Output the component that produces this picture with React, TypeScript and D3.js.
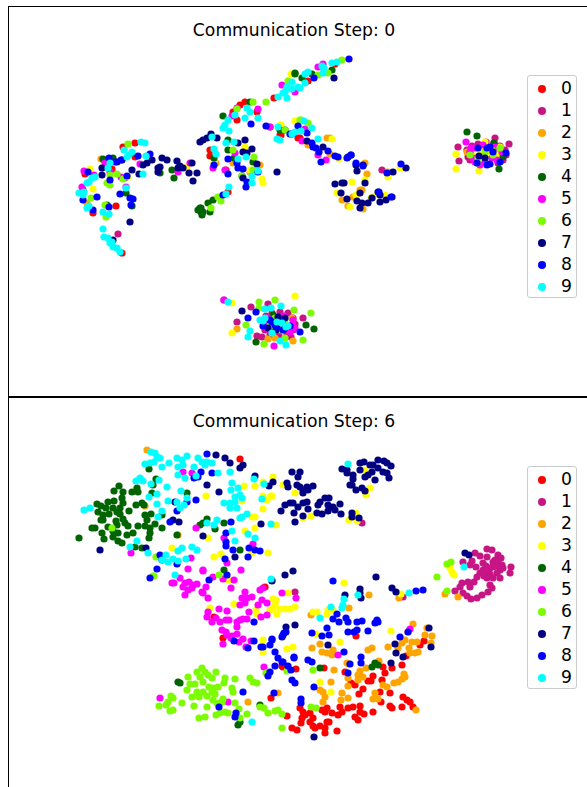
import React, { useEffect, useRef } from 'react'
import * as d3 from 'd3'

type Pt = [number, number]

const CLASSES = ['0', '1', '2', '3', '4', '5', '6', '7', '8', '9']
const COLORS = ['#ff0000', '#c71585', '#ffa500', '#ffff00', '#006400', '#ff00ff', '#7cfc00', '#000080', '#0000ff', '#00ffff']
const STEPS = [0, 6]

// t-SNE positions, one list per class
const top0: Pt[] = [[135,143],[123,147],[85,174],[83,190],[116,206],[93,213],[135,157],[112,169],[245,102],[240,105],[233,112],[274,98],[210,150],[210,156],[226,170],[228,192],[281,135],[270,127],[300,138],[237,120],[257,112],[122,253],[308,81],[280,135],[298,138],[335,64]]
const top1: Pt[] = [[118,234],[125,178],[382,170],[495,138],[509,144],[458,147],[459,161],[467,150],[468,157],[472,146],[478,144],[486,142],[494,143],[500,146],[505,150],[506,155],[503,160],[498,163],[470,160],[251,307],[268,304],[237,322],[303,318],[257,336],[262,337],[291,337],[224,300],[264,322],[266,316],[272,313],[280,312],[288,313],[293,318],[295,324],[293,330],[287,334],[279,336],[270,335],[265,330]]
const top2: Pt[] = [[101,159],[87,203],[216,163],[233,163],[260,165],[255,172],[250,172],[308,145],[327,138],[330,138],[367,174],[362,190],[353,197],[342,200],[348,206],[363,209],[365,163],[388,172],[330,154],[467,152],[360,190],[498,150],[237,329],[268,339],[275,338],[293,341],[292,318]]
const top3: Pt[] = [[90,169],[128,177],[93,189],[187,167],[245,147],[262,179],[263,183],[250,170],[280,125],[295,121],[292,74],[214,162],[291,74],[332,139],[365,180],[352,182],[337,193],[356,195],[350,207],[371,198],[385,195],[388,177],[400,168],[479,171],[456,169],[456,154],[500,147],[485,142],[498,155],[281,125],[373,197],[339,159],[295,296],[232,333],[232,303],[480,150],[490,155],[500,155],[472,155]]
const top4: Pt[] = [[103,159],[113,158],[172,170],[174,178],[126,193],[107,205],[132,206],[223,116],[228,140],[228,150],[214,158],[234,158],[253,162],[242,176],[208,203],[213,200],[200,208],[198,210],[201,212],[203,212],[202,215],[210,212],[201,208],[250,102],[280,130],[295,73],[160,173],[295,74],[302,78],[312,74],[332,70],[467,132],[477,136],[499,169],[494,143],[503,157],[285,130],[256,342],[306,325],[314,329],[273,315]]
const top5: Pt[] = [[84,171],[94,175],[82,187],[121,177],[126,187],[140,164],[178,172],[190,163],[110,172],[105,163],[237,108],[258,109],[232,116],[213,168],[225,170],[270,127],[295,92],[282,85],[235,153],[318,67],[323,64],[305,129],[318,155],[302,141],[326,160],[466,142],[471,148],[473,158],[492,158],[480,165],[274,346],[292,325],[293,320],[224,300],[265,325],[295,328],[268,318],[470,152],[475,148],[483,145],[495,147],[502,152],[497,160],[485,162],[475,162],[267,328],[290,332],[284,316],[272,332]]
const top6: Pt[] = [[128,144],[110,175],[117,174],[123,179],[107,183],[110,185],[91,198],[106,217],[105,205],[233,150],[254,157],[237,109],[253,102],[266,102],[218,197],[221,201],[211,208],[242,176],[253,170],[285,130],[288,81],[300,120],[342,60],[328,73],[318,75],[308,123],[301,120],[470,155],[477,163],[493,155],[500,148],[259,302],[275,300],[294,310],[311,313],[246,325],[264,344],[303,340],[259,308],[285,338],[478,158],[485,152],[492,150],[275,318],[285,320],[280,330],[270,326]]
const top7: Pt[] = [[203,140],[200,142],[207,138],[211,134],[217,138],[102,168],[102,175],[122,160],[117,162],[132,170],[143,165],[147,163],[152,160],[158,168],[160,167],[158,172],[162,158],[167,160],[177,161],[180,166],[178,168],[183,168],[192,163],[189,173],[197,173],[193,181],[139,174],[130,222],[277,172],[252,149],[243,152],[247,153],[257,164],[243,178],[245,140],[238,143],[113,240],[334,78],[307,141],[323,147],[335,184],[342,183],[344,183],[351,155],[348,157],[356,165],[357,171],[363,165],[365,183],[360,193],[341,193],[347,199],[357,201],[360,208],[362,203],[368,203],[372,198],[378,192],[380,195],[380,202],[386,200],[392,197],[393,172],[406,168],[479,156],[485,158],[242,311],[278,317],[268,328],[285,318],[276,330],[285,328]]
const top8: Pt[] = [[138,156],[150,154],[109,158],[121,160],[115,162],[88,172],[97,197],[83,200],[93,210],[109,207],[120,194],[130,198],[133,199],[131,205],[127,176],[110,180],[251,124],[214,165],[228,174],[228,159],[243,169],[237,163],[238,168],[247,182],[246,187],[258,172],[266,126],[298,126],[292,134],[223,195],[349,59],[314,78],[290,134],[307,133],[312,143],[313,147],[316,148],[319,152],[328,151],[321,162],[335,156],[338,157],[347,158],[351,155],[356,163],[363,166],[387,173],[401,164],[379,192],[391,197],[478,148],[487,148],[490,147],[493,152],[506,153],[500,162],[490,164],[487,165],[477,163],[248,318],[256,312],[263,326],[272,322],[277,327],[300,332],[282,322],[270,320],[283,330],[275,325],[290,326]]
const top9: Pt[] = [[145,143],[141,142],[124,150],[132,152],[129,155],[127,157],[110,163],[108,168],[146,156],[95,177],[92,178],[89,182],[87,183],[79,193],[84,192],[83,195],[87,208],[89,206],[109,214],[103,212],[126,188],[143,174],[103,229],[104,237],[108,238],[112,242],[113,247],[117,248],[120,252],[110,243],[212,137],[214,149],[216,154],[226,143],[234,142],[228,120],[225,125],[223,128],[229,131],[235,115],[245,118],[247,108],[250,112],[258,118],[238,159],[246,157],[252,176],[252,183],[258,171],[229,187],[226,194],[287,98],[278,97],[285,92],[287,87],[292,82],[298,87],[278,127],[277,139],[295,132],[292,134],[283,93],[287,88],[292,89],[300,88],[305,83],[305,74],[308,72],[322,66],[324,68],[323,73],[332,63],[337,62],[301,131],[304,121],[312,128],[318,139],[280,140],[228,302],[265,309],[271,308],[281,306],[260,320],[265,318],[250,331],[248,337],[286,345],[280,341],[272,333],[277,322],[282,323],[288,326],[286,327],[263,321]]

const bottom0: Pt[] = [[300,708],[303,712],[302,718],[305,715],[310,713],[301,723],[310,722],[313,718],[315,728],[313,726],[320,726],[325,728],[327,722],[329,722],[325,733],[337,731],[322,710],[325,712],[332,713],[327,708],[338,715],[340,707],[342,712],[348,708],[353,707],[360,706],[360,712],[355,717],[358,720],[364,714],[373,712],[390,706],[392,708],[402,707],[403,697],[407,700],[410,702],[413,707],[380,692],[390,693],[381,702],[363,689],[359,694],[355,685],[351,683],[345,672],[368,681],[371,681],[373,676],[383,667],[385,673],[392,668],[382,680],[402,665],[296,669],[282,666],[324,668],[356,636],[406,656],[420,645],[424,641],[292,728],[297,730],[287,716],[271,698],[265,587],[223,638],[214,617],[283,667],[240,459]]
const bottom1: Pt[] = [[487,549],[492,550],[475,553],[480,556],[487,557],[498,555],[501,558],[472,561],[463,562],[470,565],[476,567],[483,563],[493,562],[498,563],[502,565],[511,567],[510,573],[490,568],[493,567],[500,570],[497,573],[487,573],[480,573],[477,577],[500,578],[493,578],[487,578],[490,585],[492,588],[488,592],[482,595],[477,598],[471,599],[462,583],[468,582],[474,582],[460,587],[470,587],[455,591],[463,593],[467,596],[483,570],[503,568],[362,523],[295,592],[403,597],[495,560],[490,574],[496,566],[484,576],[486,566]]
const bottom2: Pt[] = [[311,615],[349,608],[413,624],[425,635],[432,636],[427,628],[431,643],[412,642],[417,642],[405,640],[402,643],[398,648],[409,648],[410,653],[418,652],[415,653],[388,647],[372,648],[368,650],[312,648],[320,644],[322,652],[327,653],[333,650],[332,655],[347,663],[349,664],[379,661],[366,668],[334,670],[360,671],[358,675],[363,677],[358,680],[348,678],[348,686],[331,682],[320,690],[323,692],[325,697],[323,702],[342,693],[341,700],[348,698],[375,693],[373,699],[378,699],[383,685],[387,687],[394,683],[398,682],[402,679],[405,677],[404,674],[408,632],[416,710],[278,693],[248,702],[445,594],[458,597],[369,595],[399,598],[147,450],[145,506],[178,535],[272,580]]
const bottom3: Pt[] = [[206,496],[244,486],[255,486],[263,482],[273,477],[283,485],[263,496],[267,500],[271,496],[242,501],[263,509],[252,517],[255,517],[276,525],[255,528],[245,531],[208,538],[172,548],[214,557],[221,554],[268,553],[252,553],[229,580],[295,493],[272,496],[365,470],[370,488],[366,495],[303,518],[311,516],[356,513],[349,520],[357,521],[450,568],[452,572],[454,575],[401,594],[344,583],[288,593],[276,600],[273,608],[280,609],[285,609],[290,609],[295,607],[277,614],[270,610],[313,612],[317,612],[328,610],[327,614],[333,610],[234,604],[210,608],[256,610],[257,614],[273,599],[275,605],[228,580],[263,640],[263,652],[287,649],[293,647],[316,634],[340,642],[320,682],[331,692],[391,631],[283,637]]
const bottom4: Pt[] = [[119,486],[114,491],[123,492],[132,492],[137,488],[138,492],[156,479],[152,493],[149,469],[97,504],[101,506],[106,508],[108,502],[114,501],[122,498],[123,503],[120,508],[113,508],[98,512],[103,515],[109,514],[117,512],[120,514],[129,511],[136,505],[142,503],[144,505],[145,515],[151,514],[147,520],[103,520],[101,520],[116,521],[123,519],[125,523],[117,525],[108,527],[128,526],[138,526],[145,526],[150,528],[155,524],[162,528],[92,528],[95,528],[102,533],[113,531],[118,533],[127,535],[133,533],[150,533],[149,538],[104,539],[113,537],[118,541],[122,543],[79,538],[135,547],[142,548],[177,535],[162,515],[187,493],[200,525],[207,519],[203,523],[224,523],[215,529],[240,550],[224,570],[153,485],[178,682],[180,683],[320,668],[375,663],[378,665],[372,667],[238,725],[240,722],[260,705]]
const bottom5: Pt[] = [[172,583],[174,583],[180,578],[183,587],[185,583],[189,582],[193,585],[197,584],[192,588],[185,595],[188,590],[202,592],[203,593],[206,587],[208,598],[223,579],[234,580],[231,588],[160,698],[203,571],[260,590],[263,588],[245,592],[242,598],[247,598],[240,605],[245,603],[252,597],[258,605],[262,600],[267,603],[282,593],[296,598],[249,612],[261,617],[267,615],[219,609],[227,611],[208,612],[207,617],[216,618],[220,622],[212,622],[226,620],[229,620],[237,622],[240,620],[243,619],[247,619],[237,627],[222,630],[226,632],[227,635],[232,636],[237,634],[231,638],[223,644],[239,642],[243,639],[251,641],[246,647],[264,667],[228,702],[131,553],[183,472],[196,528],[224,538],[191,558],[227,563],[188,569],[203,570],[241,570],[213,577],[192,473],[253,544],[338,655],[410,629]]
const bottom6: Pt[] = [[202,668],[197,672],[205,672],[216,672],[208,675],[188,677],[200,677],[212,678],[203,682],[195,684],[190,684],[209,687],[218,687],[214,688],[225,678],[224,683],[235,679],[232,688],[233,692],[187,690],[197,692],[203,692],[212,692],[192,697],[199,697],[207,696],[215,694],[223,699],[171,696],[173,698],[168,702],[166,705],[159,706],[182,703],[194,706],[207,707],[217,703],[213,700],[222,702],[170,711],[173,710],[199,718],[205,717],[216,715],[220,713],[225,712],[228,713],[235,703],[239,709],[247,714],[240,718],[250,678],[253,682],[257,683],[260,707],[264,708],[268,713],[275,711],[278,710],[282,714],[266,673],[219,575],[282,728],[153,576],[313,670],[311,707],[316,708],[287,671],[447,564],[451,562],[437,577],[447,591],[112,528],[156,557],[154,576]]
const bottom7: Pt[] = [[216,455],[225,458],[230,463],[243,465],[240,468],[255,476],[207,485],[219,492],[273,482],[269,486],[287,483],[290,503],[285,505],[281,511],[261,524],[175,502],[173,520],[179,522],[203,536],[146,548],[100,550],[235,557],[285,575],[342,469],[347,470],[347,473],[353,475],[353,479],[352,485],[356,490],[362,488],[365,491],[360,463],[364,462],[360,470],[365,477],[370,465],[373,465],[378,460],[384,461],[387,463],[391,466],[378,468],[372,472],[383,472],[387,473],[389,478],[375,480],[368,475],[350,485],[292,472],[300,472],[298,477],[288,487],[297,485],[300,487],[303,490],[307,487],[313,486],[308,490],[303,493],[293,503],[294,513],[295,522],[298,507],[303,503],[307,502],[308,509],[303,516],[317,513],[318,505],[320,502],[325,498],[329,498],[322,514],[328,505],[328,511],[333,507],[335,510],[340,504],[341,514],[352,513],[352,517],[359,518],[293,571],[272,581],[376,577],[392,588],[396,592],[345,595],[360,589],[360,593],[361,598],[465,553],[469,555],[295,625],[286,627],[328,645],[395,644],[396,653],[403,657],[391,663],[429,628],[431,647],[314,737]]
const bottom8: Pt[] = [[207,454],[201,472],[198,477],[194,478],[212,473],[196,500],[187,502],[177,511],[170,522],[226,533],[226,542],[226,546],[233,550],[231,522],[249,548],[255,550],[260,551],[248,557],[225,559],[160,555],[162,560],[177,564],[157,569],[150,578],[227,575],[209,580],[254,622],[234,641],[254,641],[272,639],[270,645],[261,647],[263,647],[248,648],[284,633],[282,637],[275,652],[278,658],[283,662],[294,658],[288,666],[275,666],[291,670],[270,672],[268,676],[292,680],[295,683],[308,660],[274,693],[243,692],[219,707],[236,713],[235,717],[337,614],[333,619],[339,622],[346,618],[348,622],[357,622],[362,621],[377,620],[378,622],[375,623],[368,631],[348,632],[354,632],[357,630],[327,628],[329,635],[322,636],[312,633],[286,632],[283,635],[272,640],[294,657],[282,662],[312,662],[344,652],[361,657],[361,663],[350,664],[348,673],[400,637],[408,632],[314,687],[301,699],[301,703],[333,581],[416,591],[423,590]]
const bottom9: Pt[] = [[151,452],[155,453],[157,457],[160,458],[145,464],[150,463],[154,462],[162,467],[169,463],[177,458],[182,460],[187,456],[183,465],[178,467],[178,475],[185,478],[196,476],[194,467],[198,458],[202,462],[207,462],[212,463],[205,465],[218,473],[230,472],[232,483],[231,490],[238,488],[240,495],[242,498],[235,497],[230,503],[224,503],[235,502],[230,508],[237,508],[140,478],[136,481],[143,481],[159,480],[151,484],[167,487],[157,494],[149,497],[181,491],[187,498],[168,501],[157,504],[177,502],[184,505],[180,508],[162,511],[158,517],[84,510],[90,508],[137,541],[130,547],[148,553],[182,548],[178,551],[192,547],[197,550],[166,555],[162,560],[168,562],[173,559],[178,561],[186,559],[207,523],[214,525],[217,520],[232,531],[235,541],[248,534],[255,538],[240,518],[247,514],[242,517],[254,479],[264,484],[262,499],[271,524],[175,575],[271,579],[348,464],[464,567],[409,593],[358,595],[344,599],[343,605],[342,608],[331,607],[320,618],[252,722]]

const topPanel = [top0, top1, top2, top3, top4, top5, top6, top7, top8, top9]
const bottomPanel = [bottom0, bottom1, bottom2, bottom3, bottom4, bottom5, bottom6, bottom7, bottom8, bottom9]

const WIDTH = 587
const HEIGHT = 787

export default function App() {
  const svgRef = useRef<SVGSVGElement>(null)

  useEffect(() => {
    if (!svgRef.current) return
    const svg = d3.select(svgRef.current)
    svg.selectAll('*').remove()

    const x = d3.scaleLinear().domain([8, WIDTH]).range([8, WIDTH])
    const panels = [
      { data: topPanel, step: STEPS[0], y: d3.scaleLinear().domain([6, 396]).range([6, 396]), top: 6, bottom: 396, titleY: 36, legendY: 75 },
      { data: bottomPanel, step: STEPS[1], y: d3.scaleLinear().domain([397, HEIGHT]).range([397, HEIGHT]), top: 397, bottom: HEIGHT + 4, titleY: 427, legendY: 466 },
    ]

    panels.forEach((p) => {
      const g = svg.append('g')

      p.data.forEach((pts, i) => {
        g.append('g')
          .selectAll('circle')
          .data(pts)
          .enter()
          .append('circle')
          .attr('cx', (d) => x(d[0]))
          .attr('cy', (d) => p.y(d[1]))
          .attr('r', 3.6)
          .attr('fill', COLORS[i])
      })

      // spines
      g.append('rect')
        .attr('x', 8.5)
        .attr('y', p.top + 0.5)
        .attr('width', WIDTH + 10)
        .attr('height', p.bottom - p.top)
        .attr('fill', 'none')
        .attr('stroke', '#000')
        .attr('stroke-width', 1)

      g.append('text')
        .attr('x', 294)
        .attr('y', p.titleY)
        .attr('text-anchor', 'middle')
        .attr('font-family', 'DejaVu Sans')
        .attr('font-size', 17.2)
        .attr('fill', '#000')
        .text(`Communication Step: ${p.step}`)

      const legend = g.append('g').attr('transform', `translate(527,${p.legendY})`)
      legend
        .append('rect')
        .attr('x', 0.5)
        .attr('y', 0.5)
        .attr('width', 49)
        .attr('height', 222)
        .attr('rx', 2.5)
        .attr('fill', '#fff')
        .attr('fill-opacity', 0.8)
        .attr('stroke', '#ccc')

      const rows = legend
        .selectAll('g.row')
        .data(CLASSES)
        .enter()
        .append('g')
        .attr('class', 'row')
        .attr('transform', (_, i) => `translate(0,${14 + i * 22})`)

      rows
        .append('circle')
        .attr('cx', 15)
        .attr('cy', 0)
        .attr('r', 4)
        .attr('fill', (_, i) => COLORS[i])

      rows
        .append('text')
        .attr('x', 34)
        .attr('y', -1)
        .attr('dy', '0.36em')
        .attr('font-family', 'DejaVu Sans')
        .attr('font-size', 17.2)
        .attr('fill', '#000')
        .text((d) => d)
    })
  }, [])

  return (
    <svg
      ref={svgRef}
      width={WIDTH}
      height={HEIGHT}
      style={{ position: 'absolute', left: 0, top: 0, background: '#fff' }}
    />
  )
}
